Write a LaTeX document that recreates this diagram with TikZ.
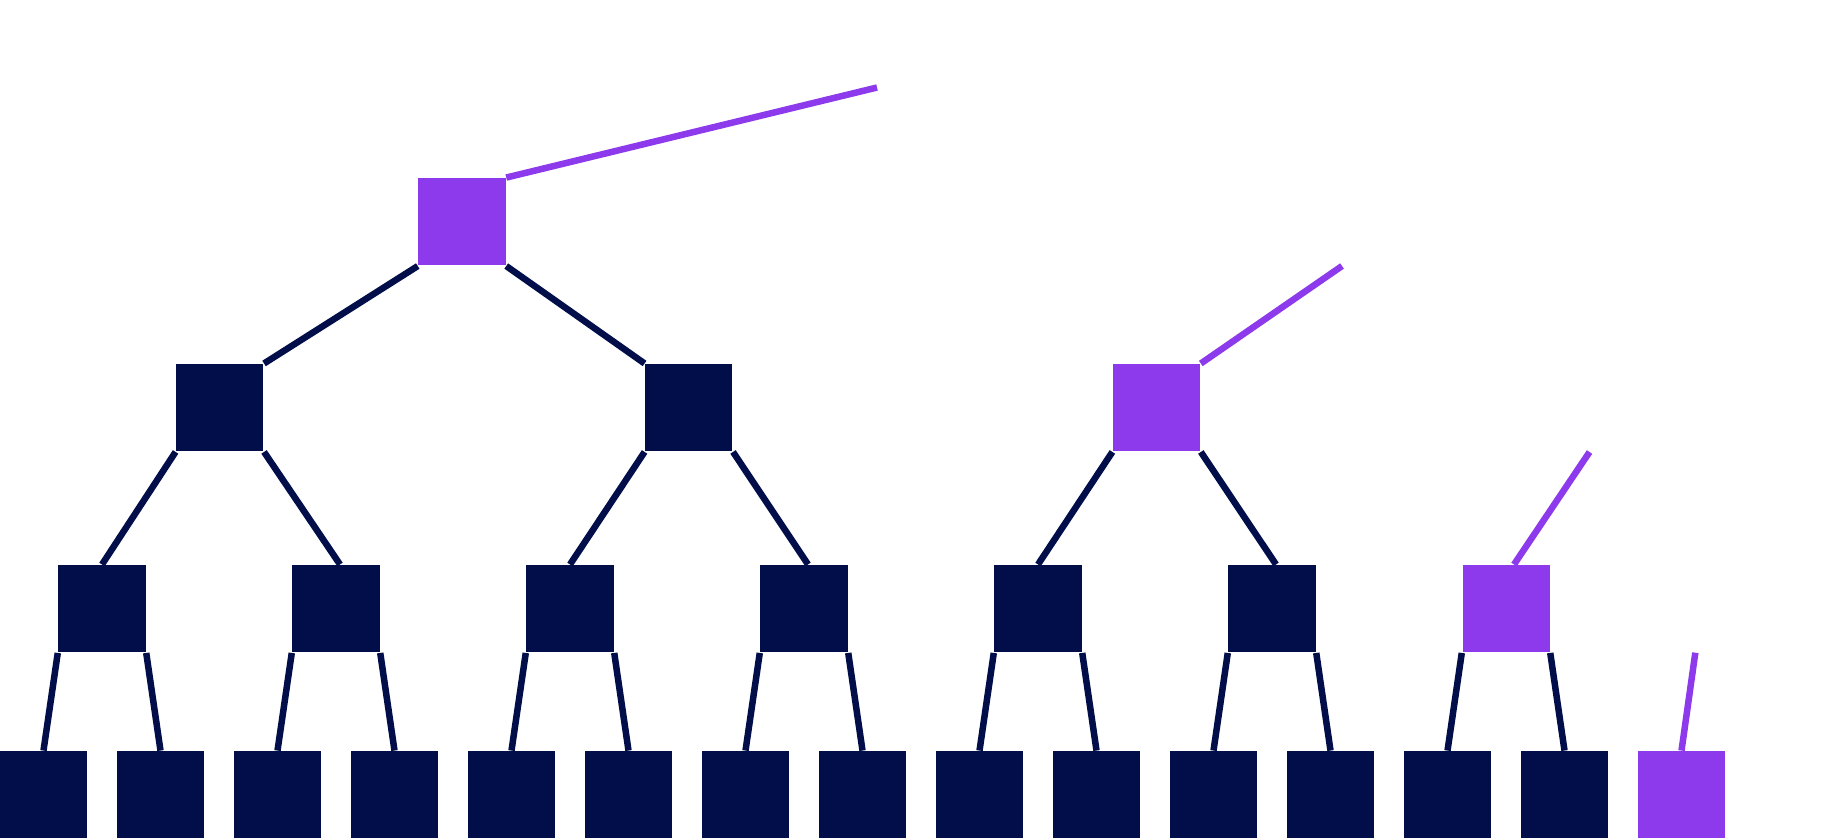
\documentclass[tikz,border=0pt]{standalone}
\definecolor{navy}{HTML}{010E4A}
\definecolor{vio}{HTML}{8C3AEB}
\begin{document}
\begin{tikzpicture}[x=0.01cm,y=-0.01cm,
  box/.style={rectangle,inner sep=0pt,minimum size=0.87cm,fill=navy},
  hot/.style={box,fill=vio},
  edge/.style={draw=navy,line width=0.065cm},
  free/.style={draw=vio,line width=0.065cm}]
\useasboundingbox (0,0) rectangle (1843,839);
% bottom row
\foreach \k in {0,...,13}{
  \node[box] (l4-\k) at ({43.5+117*\k},794.8) {};
}
\node[hot] (l4-14) at ({43.5+117*14},794.8) {};
% level 3
\foreach \k in {0,...,5}{
  \node[box] (l3-\k) at ({102+234*\k},608.7) {};
}
\node[hot] (l3-6) at ({102+234*6},608.7) {};
% level 2
\node[box] (l2-0) at (219.8,407.7) {};
\node[box] (l2-1) at (688.8,407.7) {};
\node[hot] (l2-2) at (1156.6,407.7) {};
% root
\node[hot] (root) at (462,221.8) {};
% free ends
\coordinate (c0) at (877,87.5);
\coordinate (c1) at (1342,266);
\coordinate (c2) at (1589.5,452);
\coordinate (c3) at (1695.3,652.7);
% tree edges
\foreach \k [evaluate=\k as \a using int(2*\k), evaluate=\k as \b using int(2*\k+1)] in {0,...,6}{
  \draw[edge] (l3-\k.south west) -- (l4-\a.north);
  \draw[edge] (l3-\k.south east) -- (l4-\b.north);
}
\foreach \k [evaluate=\k as \a using int(2*\k), evaluate=\k as \b using int(2*\k+1)] in {0,1,2}{
  \draw[edge] (l2-\k.south west) -- (l3-\a.north);
  \draw[edge] (l2-\k.south east) -- ([xshift=0.04cm]l3-\b.north);
}
\draw[edge] (root.south west) -- (l2-0.north east);
\draw[edge] (root.south east) -- (l2-1.north west);
% free connectors
\draw[free] (root.north east) -- (c0);
\draw[free] (l2-2.north east) -- (c1);
\draw[free] ([xshift=0.08cm]l3-6.north) -- (c2);
\draw[free] (l4-14.north) -- (c3);
\end{tikzpicture}
\end{document}
